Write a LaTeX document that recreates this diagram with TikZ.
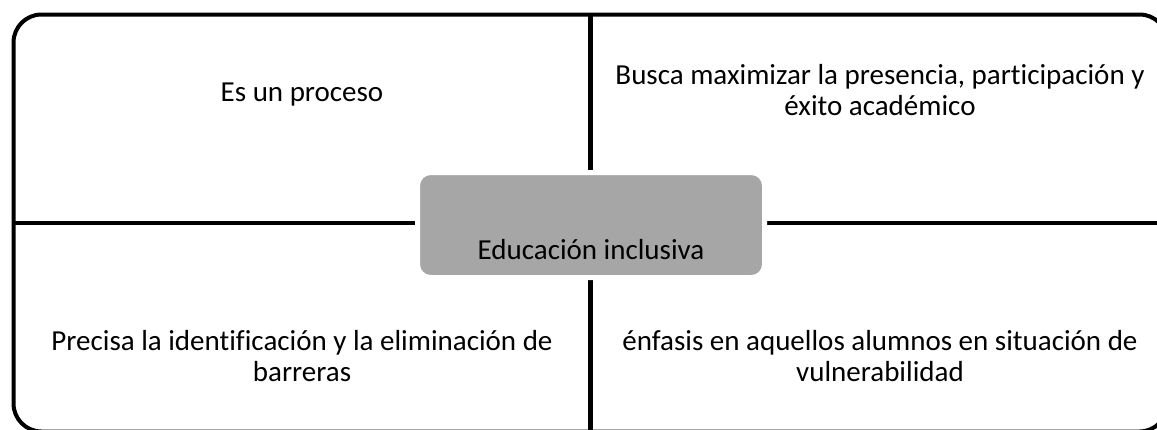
\documentclass[tikz,border=0pt]{standalone}
\usepackage{fontspec}
\setmainfont{Carlito}[Ligatures=CommonOff]
\definecolor{boxgray}{HTML}{A6A6A6}
\begin{document}
\begin{tikzpicture}[x=1pt,y=-1pt,
  frame/.style={line width=4pt, rounded corners=28pt},
  divider/.style={line width=4.5pt},
  quadtext/.style={font=\fontsize{29}{31}\selectfont, align=center, inner sep=0pt, anchor=base},
  centerbox/.style={draw=white, line width=5pt, fill=boxgray, rounded corners=13pt,
    minimum width=347pt, minimum height=105pt, inner sep=0pt,
    font=\fontsize{29}{31}\selectfont, text=black, text height=68pt, text depth=0pt}]
\useasboundingbox (0,0) rectangle (1157,429);
\clip (0,0) rectangle (1157,429);
% outer frame
\draw[frame] (13.5,14.5) rectangle (1167.5,431.5);
% dividers
\coordinate (top) at (590.5,14.5);
\coordinate (bottom) at (590.5,431.5);
\coordinate (left) at (13.5,223);
\coordinate (right) at (1167.5,223);
\draw[divider] (top) -- (bottom);
\draw[divider] (left) -- (right);
% centre
\node[centerbox] (edu) at (591,225) {Educación inclusiva};
% quadrant texts
\node[quadtext] (q1) at (302,101) {Es un proceso};
\node[quadtext] (q2) at (880,115) {Busca maximizar la presencia, participación y\\éxito académico};
\node[quadtext] (q3) at (302,381) {Precisa la identificación y la eliminación de\\barreras};
\node[quadtext] (q4) at (880,381) {énfasis en aquellos alumnos en situación de\\vulnerabilidad};
\end{tikzpicture}
\end{document}
